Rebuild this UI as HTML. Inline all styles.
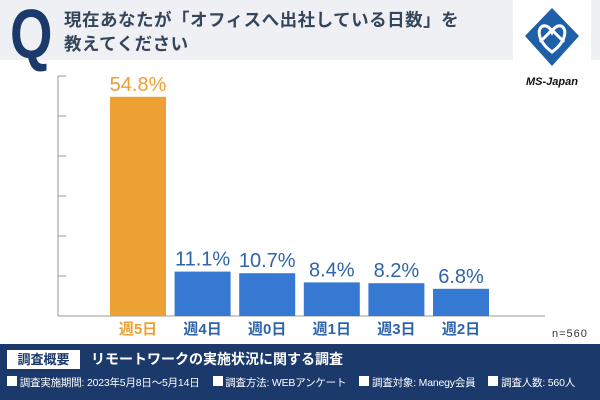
<!DOCTYPE html>
<html><head><meta charset="utf-8"><style>
body{margin:0;width:600px;height:400px;overflow:hidden;background:#fff;font-family:"Liberation Sans","Noto Sans CJK JP",sans-serif;position:relative}
.abs{position:absolute}
</style></head><body>
<div class="abs" style="left:0;top:0;width:600px;height:60px;background:#eef0f3"></div>
<div class="abs" style="left:10px;top:-6px;font-size:70px;font-weight:bold;color:#1b3a6b;transform:scaleX(0.78);transform-origin:left">Q</div>
<div class="abs" style="left:64px;top:8px;font-size:17.5px;line-height:24px;color:#34455c;font-weight:bold;letter-spacing:0.5px">現在あなたが「オフィスへ出社している日数」を<br>教えてください</div>
<div class="abs" style="left:513px;top:0;width:78px;height:96px;background:#fff">
<svg width="78" height="96" viewBox="0 0 78 96"><polygon points="39,8 66,36 39,66 12,36" fill="#1f5fa8"/><path d="M39 52 C22 40 24 24 33 26 C37 27 39 32 39 32 C39 32 41 27 45 26 C54 24 56 40 39 52Z" fill="none" stroke="#fff" stroke-width="3"/><path d="M27 42 L39 30 L51 42" fill="none" stroke="#fff" stroke-width="3"/>
<text x="39" y="85" text-anchor="middle" font-size="11" font-weight="bold" font-style="italic" fill="#111" font-family="Liberation Sans">MS-Japan</text></svg></div>
<svg id="chart" class="abs" style="left:0;top:0" width="600" height="345"></svg>
<div class="abs" style="left:552px;top:328px;font-size:11px;color:#333;letter-spacing:1px">n=560</div>
<div class="abs" style="left:0;top:344px;width:600px;height:56px;background:#1b3a6b;color:#fff">
<div class="abs" style="left:7px;top:6px;width:73px;height:19px;background:#fff;color:#1b3a6b;font-size:13px;line-height:19px;text-align:center;font-weight:bold">調査概要</div>
<div class="abs" style="left:91px;top:6px;font-size:14px;line-height:19px;font-weight:bold">リモートワークの実施状況に関する調査</div>
<div class="abs" style="left:7px;top:32px;font-size:10.5px;line-height:14px;white-space:nowrap;letter-spacing:-0.2px">
<span style="display:inline-block;width:10px;height:10px;background:#fff"></span> 調査実施期間: 2023年5月8日～5月14日　 <span style="display:inline-block;width:10px;height:10px;background:#fff"></span> 調査方法: WEBアンケート　 <span style="display:inline-block;width:10px;height:10px;background:#fff"></span> 調査対象: Manegy会員　 <span style="display:inline-block;width:10px;height:10px;background:#fff"></span> 調査人数: 560人</div>
</div>
<script>
const categories=["週5日","週4日","週0日","週1日","週3日","週2日"];
const values=[54.8,11.1,10.7,8.4,8.2,6.8];
const yTicks=[0,10,20,30,40,50,60];
const svg=document.getElementById('chart');
const NS="http://www.w3.org/2000/svg";
const base=316,scale=4.0,x0=110,pitch=64.6,bw=56;
const y=v=>base-v*scale;
const x=i=>x0+i*pitch;
function mk(t,a){const e=document.createElementNS(NS,t);for(const k in a)e.setAttribute(k,a[k]);svg.appendChild(e);return e;}
let ax=mk('line',{x1:58,y1:y(60),x2:58,y2:base,stroke:'#999','stroke-width':1});


yTicks.forEach(t=>{const l=mk('line',{x1:58,y1:y(t),x2:66,y2:y(t),stroke:'#999','stroke-width':1});

});
let bl=mk('line',{x1:58,y1:base,x2:545,y2:base,stroke:'#999','stroke-width':1});


values.forEach((v,i)=>{
const col=i===0?'#eda033':'#3579d2';
const r=mk('rect',{x:x(i),y:y(v),width:bw,height:base-y(v),fill:col});


const t=mk('text',{x:x(i)+bw/2,y:y(v)-6,'text-anchor':'middle','font-size':20,'font-weight':'normal',fill:i===0?'#eda033':'#2f64a8','font-family':'Liberation Sans Narrow, Liberation Sans, sans-serif'});
t.textContent=v.toFixed(1)+'%';


const c=mk('text',{x:x(i)+bw/2,y:base+18,'text-anchor':'middle','font-size':15,'font-weight':'bold',fill:i===0?'#eda033':'#2f64a8','font-family':'Liberation Sans, Noto Sans CJK JP, sans-serif'});
c.textContent=categories[i];


});
</script>
</body></html>
